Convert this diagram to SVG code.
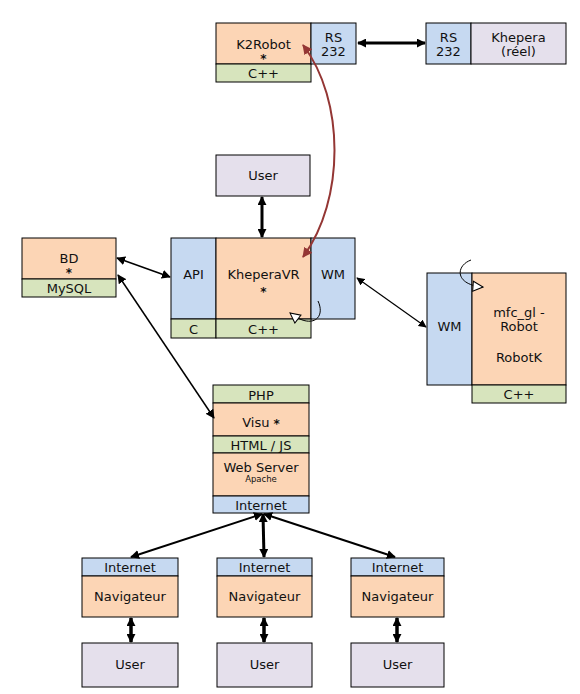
<svg xmlns="http://www.w3.org/2000/svg" width="580" height="694" viewBox="0 0 580 694">
<defs>
<style>
rect{stroke:#000;stroke-width:1}
.o{fill:#fcd5b5}.g{fill:#d7e4bd}.b{fill:#c6d9f1}.l{fill:#e5e0ec}
text{font-family:"DejaVu Sans","Liberation Sans",sans-serif;font-size:13px;fill:#111;text-anchor:middle}
.sm{font-size:8.5px}
.ast{font-size:12px;font-weight:bold}
.c{stroke:#000;fill:none}
</style>
<marker id="ah" viewBox="0 0 10 10" refX="9" refY="5" markerWidth="9" markerHeight="9" markerUnits="userSpaceOnUse" orient="auto-start-reverse"><path d="M0,0 L10,5 L0,10 z" fill="#000"/></marker>
<marker id="ahs" viewBox="0 0 10 10" refX="9" refY="5" markerWidth="8" markerHeight="8" markerUnits="userSpaceOnUse" orient="auto-start-reverse"><path d="M0,0 L10,5 L0,10 z" fill="#000"/></marker>
<marker id="ahr" viewBox="0 0 10 10" refX="9" refY="5" markerWidth="10" markerHeight="10" markerUnits="userSpaceOnUse" orient="auto-start-reverse"><path d="M0,0 L10,5 L0,10 z" fill="#943634"/></marker>
<marker id="ao" viewBox="0 0 12 12" refX="11" refY="6" markerWidth="12" markerHeight="12" markerUnits="userSpaceOnUse" orient="auto"><path d="M1,1 L11,6 L1,11 z" fill="#fff" stroke="#000" stroke-width="1"/></marker>
</defs>
<rect width="580" height="694" fill="#fff" style="stroke:none"/>

<g id="k2robot">
<rect class="o" x="216" y="23" width="95" height="41"/>
<rect class="g" x="216" y="64" width="95" height="18"/>
<rect class="b" x="311" y="23" width="45" height="41"/>
<text x="263.5" y="48.5">K2Robot<tspan class="ast" x="263.5" dy="14">*</tspan></text>
<text x="263.5" y="78">C++</text>
<text x="333.5" y="41.5">RS</text>
<text x="333.5" y="55.5">232</text>
</g>

<g id="khepera">
<rect class="b" x="426" y="23" width="45" height="41"/>
<rect class="l" x="471" y="23" width="95" height="41"/>
<text x="448.5" y="41.5">RS</text>
<text x="448.5" y="55.5">232</text>
<text x="518.5" y="41.5">Khepera</text>
<text x="518.5" y="55.5">(réel)</text>
</g>

<g id="user-top">
<rect class="l" x="216" y="155" width="94" height="41"/>
<text x="263" y="179.5">User</text>
</g>

<g id="kheperavr">
<rect class="b" x="171" y="238" width="45" height="81"/>
<rect class="o" x="216" y="238" width="95" height="81"/>
<rect class="b" x="311" y="238" width="44" height="81"/>
<rect class="g" x="171" y="319" width="45" height="19"/>
<rect class="g" x="216" y="319" width="95" height="19"/>
<text x="193.5" y="279">API</text>
<text x="263.5" y="279">KheperaVR<tspan class="ast" x="263.5" dy="17">*</tspan></text>
<text x="333" y="279">WM</text>
<text x="193.5" y="333.5">C</text>
<text x="263.5" y="333.5">C++</text>
</g>

<g id="mfc-gl">
<rect class="b" x="427" y="273" width="45" height="112"/>
<rect class="o" x="472" y="273" width="94" height="112"/>
<rect class="g" x="472" y="385" width="94" height="18"/>
<text x="449.5" y="330.5">WM</text>
<text x="519" y="316.5">mfc_gl -</text>
<text x="519" y="330.5">Robot</text>
<text x="519" y="361.5">RobotK</text>
<text x="519" y="398.5">C++</text>
</g>

<g id="bd">
<rect class="o" x="22" y="238" width="94" height="41"/>
<rect class="g" x="22" y="279" width="94" height="18"/>
<text x="69" y="262.5">BD<tspan class="ast" x="69" dy="14.5">*</tspan></text>
<text x="69" y="292.5">MySQL</text>
</g>

<g id="visu">
<rect class="g" x="213" y="385" width="96" height="18"/>
<rect class="o" x="213" y="403" width="96" height="33"/>
<rect class="g" x="213" y="436" width="96" height="17"/>
<rect class="o" x="213" y="453" width="96" height="43"/>
<rect class="b" x="213" y="496" width="96" height="17"/>
<text x="261" y="399.5">PHP</text>
<text x="261" y="427">Visu <tspan class="ast" font-size="15" dy="1">*</tspan></text>
<text x="261" y="449.5">HTML / JS</text>
<text x="261" y="471.5">Web Server</text>
<text class="sm" x="261" y="482">Apache</text>
<text x="261" y="509.5">Internet</text>
</g>

<g id="nav-left">
<rect class="b" x="82" y="558" width="96" height="18"/>
<rect class="o" x="82" y="576" width="96" height="41"/>
<text x="130" y="571.5">Internet</text>
<text x="130" y="600.5">Navigateur</text>
</g>
<g id="nav-mid">
<rect class="b" x="217" y="558" width="95" height="18"/>
<rect class="o" x="217" y="576" width="95" height="41"/>
<text x="264.5" y="571.5">Internet</text>
<text x="264.5" y="600.5">Navigateur</text>
</g>
<g id="nav-right">
<rect class="b" x="351" y="558" width="93" height="18"/>
<rect class="o" x="351" y="576" width="93" height="41"/>
<text x="397.5" y="571.5">Internet</text>
<text x="397.5" y="600.5">Navigateur</text>
</g>

<g id="user-left">
<rect class="l" x="82" y="643" width="96" height="44"/>
<text x="130" y="668.5">User</text>
</g>
<g id="user-mid">
<rect class="l" x="217" y="643" width="95" height="44"/>
<text x="264.5" y="668.5">User</text>
</g>
<g id="user-right">
<rect class="l" x="351" y="643" width="93" height="44"/>
<text x="397.5" y="668.5">User</text>
</g>

<g id="connectors">
<line class="c" x1="358" y1="43" x2="425" y2="43" stroke-width="3" marker-start="url(#ah)" marker-end="url(#ah)"/>
<line class="c" x1="262" y1="197" x2="262" y2="237" stroke-width="3" marker-start="url(#ah)" marker-end="url(#ah)"/>
<line class="c" x1="117" y1="258" x2="170" y2="277" stroke-width="1.5" marker-start="url(#ah)" marker-end="url(#ah)"/>
<line class="c" x1="118" y1="275" x2="214" y2="418" stroke-width="1.5" marker-start="url(#ah)" marker-end="url(#ah)"/>
<line class="c" x1="357" y1="278" x2="426" y2="327" stroke-width="1.2" marker-start="url(#ahs)" marker-end="url(#ahs)"/>
<line class="c" x1="262" y1="514" x2="131" y2="557" stroke-width="2" marker-start="url(#ah)" marker-end="url(#ah)"/>
<line class="c" x1="263" y1="514" x2="264" y2="557" stroke-width="3" marker-start="url(#ah)" marker-end="url(#ah)"/>
<line class="c" x1="264" y1="514" x2="395" y2="557" stroke-width="2" marker-start="url(#ah)" marker-end="url(#ah)"/>
<line class="c" x1="131" y1="618" x2="131" y2="642" stroke-width="3.5" marker-start="url(#ah)" marker-end="url(#ah)"/>
<line class="c" x1="264" y1="618" x2="264" y2="642" stroke-width="3.5" marker-start="url(#ah)" marker-end="url(#ah)"/>
<line class="c" x1="397" y1="618" x2="397" y2="642" stroke-width="3.5" marker-start="url(#ah)" marker-end="url(#ah)"/>
<path d="M303 45 C345 100 345 200 303 257" fill="none" stroke="#943634" stroke-width="2" marker-start="url(#ahr)" marker-end="url(#ahr)"/>
<path class="c" d="M318 301 C326 318 312 330 290 313" stroke-width="1"  marker-end="url(#ao)"/>
<path class="c" d="M471 260 C455 266 455 285 483 287" stroke-width="1" marker-end="url(#ao)"/>
</g>
</svg>
